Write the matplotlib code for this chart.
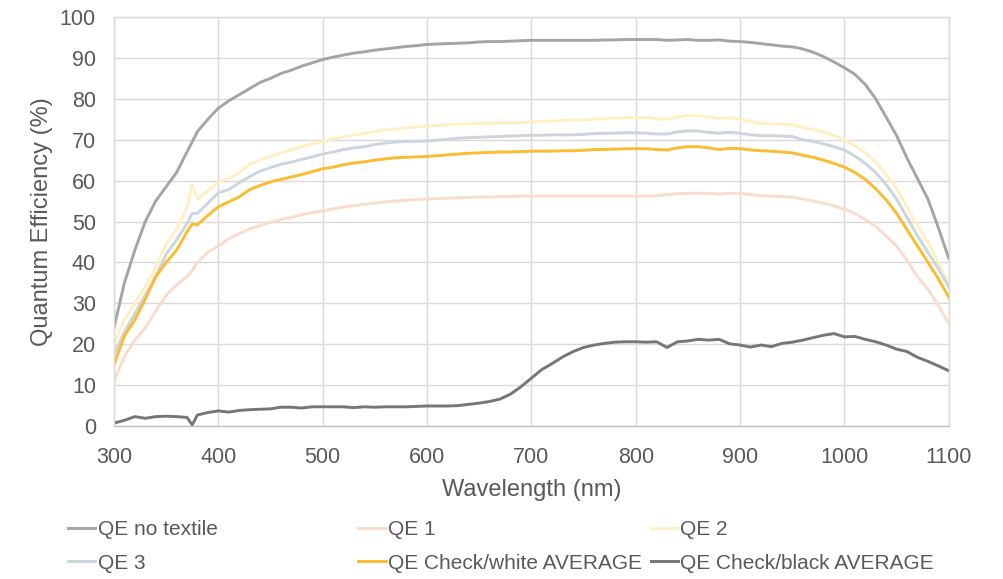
import matplotlib
matplotlib.use("Agg")
import matplotlib.pyplot as plt

wavelength = [300, 310, 320, 330, 340, 350, 360, 370, 375, 380, 390, 400, 410, 420, 430, 440, 450,
              460, 470, 480, 490, 500, 510, 520, 530, 540, 550, 560, 570, 580, 590, 600, 610, 620,
              630, 640, 650, 660, 670, 680, 690, 700, 710, 720, 730, 740, 750, 760, 770, 780, 790,
              800, 810, 820, 830, 840, 850, 860, 870, 880, 890, 900, 910, 920, 930, 940, 950, 960,
              970, 980, 990, 1000, 1010, 1020, 1030, 1040, 1050, 1060, 1070, 1080, 1090, 1100]

qe_no_textile = [24, 35, 43, 50, 55, 58.5, 62, 67, 69.5, 72, 75, 77.7, 79.5, 81, 82.5, 84, 85,
                 86.2, 87, 88, 88.8, 89.6, 90.2, 90.7, 91.2, 91.5, 91.9, 92.2, 92.5, 92.8, 93.0, 93.3,
                 93.4, 93.5, 93.6, 93.7, 93.9, 94.0, 94.0, 94.1, 94.2, 94.3, 94.3, 94.3, 94.3, 94.3,
                 94.3, 94.3, 94.4, 94.4, 94.5, 94.5, 94.5, 94.5, 94.3, 94.4, 94.5, 94.3, 94.3, 94.4,
                 94.1, 94.0, 93.8, 93.5, 93.2, 92.9, 92.7, 92.2, 91.4, 90.3, 89.0, 87.6, 86.0, 83.5,
                 80.0, 75.5, 71.0, 65.5, 60.5, 55.5, 48.5, 41]

qe_1 = [11, 17, 21, 24, 28, 32, 34.5, 36.5, 38, 40, 42.5, 44, 45.8, 47, 48.2, 49, 49.8,
        50.5, 51, 51.7, 52.2, 52.6, 53.1, 53.5, 53.9, 54.2, 54.5, 54.8, 55.0, 55.2, 55.4, 55.5,
        55.6, 55.7, 55.8, 55.9, 56.0, 56.0, 56.1, 56.1, 56.2, 56.2, 56.2, 56.2, 56.2, 56.2,
        56.2, 56.2, 56.2, 56.2, 56.2, 56.2, 56.2, 56.3, 56.6, 56.8, 56.9, 56.9, 56.9, 56.7,
        56.9, 56.9, 56.6, 56.3, 56.2, 56.1, 56.0, 55.5, 55.0, 54.5, 53.8, 53.0, 52.0, 50.5,
        48.8, 46.5, 44, 40.5, 36.5, 33.5, 29.5, 25]

qe_2 = [20, 26, 30, 34, 39, 44.5, 48, 53.5, 59, 55.5, 57.5, 59.7, 60.5, 62, 64, 65, 66,
        66.8, 67.5, 68.3, 69, 69.5, 70.2, 70.7, 71.2, 71.6, 72, 72.4, 72.6, 72.9, 73.1, 73.3,
        73.5, 73.7, 73.8, 73.9, 74.0, 74.0, 74.1, 74.1, 74.2, 74.4, 74.5, 74.6, 74.7, 74.8,
        74.8, 75.0, 75.1, 75.3, 75.4, 75.4, 75.4, 75.1, 75.0, 75.6, 76.0, 75.8, 75.5, 75.2,
        75.3, 75.0, 74.5, 74.0, 73.9, 73.8, 73.7, 73.0, 72.5, 71.8, 71.0, 70.0, 68.5, 66.8,
        64.5, 61.5, 58, 53.5, 49, 45, 40, 35]

qe_3 = [17.5, 23, 27.5, 32, 36.5, 42, 45.5, 49.5, 52, 52, 54.5, 57, 57.8, 59.5, 61, 62.3, 63.2,
        64, 64.5, 65.2, 65.8, 66.5, 67, 67.6, 68, 68.3, 68.8, 69.2, 69.4, 69.6, 69.6, 69.7,
        69.9, 70.1, 70.4, 70.5, 70.6, 70.7, 70.8, 70.9, 71.0, 71.1, 71.1, 71.2, 71.2, 71.2,
        71.3, 71.5, 71.6, 71.6, 71.7, 71.7, 71.6, 71.4, 71.4, 71.9, 72.2, 72.1, 71.8, 71.6,
        71.8, 71.6, 71.2, 71.0, 71.0, 70.9, 70.8, 70.0, 69.6, 69.0, 68.3, 67.5, 66.0, 64.2,
        62.0, 59, 55.5, 51, 46.5, 42.5, 38.5, 34]

qe_check_white = [15, 22, 26, 31, 36.5, 40, 43, 47.5, 49.4, 49.2, 51.5, 53.6, 54.8, 56, 57.8, 58.8, 59.7,
                  60.3, 60.9, 61.5, 62.2, 62.9, 63.3, 63.9, 64.3, 64.6, 65.0, 65.3, 65.6, 65.7, 65.8, 65.9,
                  66.1, 66.3, 66.5, 66.7, 66.8, 66.9, 67.0, 67.0, 67.1, 67.2, 67.2, 67.2, 67.3, 67.3,
                  67.4, 67.6, 67.6, 67.7, 67.8, 67.8, 67.8, 67.6, 67.5, 68.0, 68.3, 68.3, 68.0, 67.6,
                  67.9, 67.8, 67.5, 67.3, 67.2, 67.0, 66.8, 66.2, 65.7, 65.0, 64.2, 63.3, 62.0, 60.3,
                  58.0, 55.3, 52, 48, 44, 40, 36, 31.5]

qe_check_black = [0.7, 1.4, 2.3, 1.9, 2.3, 2.4, 2.3, 2.1, 0.3, 2.7, 3.3, 3.7, 3.4, 3.8, 4.0, 4.1, 4.2,
                  4.6, 4.6, 4.4, 4.7, 4.7, 4.7, 4.7, 4.5, 4.7, 4.6, 4.7, 4.7, 4.7, 4.8, 4.9,
                  4.9, 4.9, 5.0, 5.3, 5.6, 6.0, 6.6, 7.8, 9.6, 11.7, 13.8, 15.3, 16.9, 18.2,
                  19.2, 19.8, 20.2, 20.5, 20.6, 20.6, 20.5, 20.6, 19.2, 20.6, 20.8, 21.2, 21.0, 21.2,
                  20.1, 19.8, 19.3, 19.8, 19.4, 20.2, 20.5, 21.0, 21.6, 22.2, 22.6, 21.8, 21.9, 21.2,
                  20.6, 19.8, 18.8, 18.2, 16.8, 15.8, 14.7, 13.5]

series_labels = ["QE no textile", "QE 1", "QE 2", "QE 3",
                 "QE Check/white AVERAGE", "QE Check/black AVERAGE"]
x_ticks = [300, 400, 500, 600, 700, 800, 900, 1000, 1100]
y_ticks = [0, 10, 20, 30, 40, 50, 60, 70, 80, 90, 100]

plt.rcParams['font.family'] = ['Liberation Sans', 'DejaVu Sans']
text_color = "#595959"

fig = plt.figure(figsize=(10.04, 5.79), dpi=100)
ax = fig.add_axes([0.1135, 0.2642, 0.8315, 0.7064])

series = [qe_no_textile, qe_1, qe_2, qe_3, qe_check_white, qe_check_black]
colors = ["#A5A5A5", "#F9DCCB", "#FFF0C4", "#CBD5DF", "#FDBB2F", "#767676"]
lines = []
for data, col, lab in zip(series, colors, series_labels):
    ln, = ax.plot(wavelength, data, color=col, lw=2.1, label=lab, solid_joinstyle='round')
    lines.append(ln)

ax.set_xlim(300, 1100)
ax.set_ylim(0, 100)
ax.set_xticks(x_ticks)
ax.set_yticks(y_ticks)
ax.grid(True, color="#D9D9D9", lw=1.0)
ax.set_axisbelow(True)
for s in ax.spines.values():
    s.set_color("#D9D9D9")
    s.set_linewidth(1.0)
ax.spines['bottom'].set_color("#BFBFBF")
ax.tick_params(length=0, colors=text_color, labelsize=15.5)
ax.tick_params(axis='y', pad=13)
ax.tick_params(axis='x', pad=15)
ax.set_xlabel("Wavelength (nm)", fontsize=17, color=text_color, labelpad=8)
ax.set_ylabel("Quantum Efficiency (%)", fontsize=17, color=text_color, labelpad=5)

legend_kw = dict(frameon=False, ncol=1, fontsize=15, labelcolor=text_color,
                 handlelength=1.3, handletextpad=0.12, labelspacing=0.7,
                 borderaxespad=0, borderpad=0, loc="upper left")
col_x = [0.0677, 0.357, 0.648]
groups = [[0, 3], [1, 4], [2, 5]]
for xpos, idx in zip(col_x, groups):
    fig.legend([lines[i] for i in idx], [series_labels[i] for i in idx],
               bbox_to_anchor=(xpos, 0.102), bbox_transform=fig.transFigure, **legend_kw)

fig.savefig("out.png", dpi=100)
